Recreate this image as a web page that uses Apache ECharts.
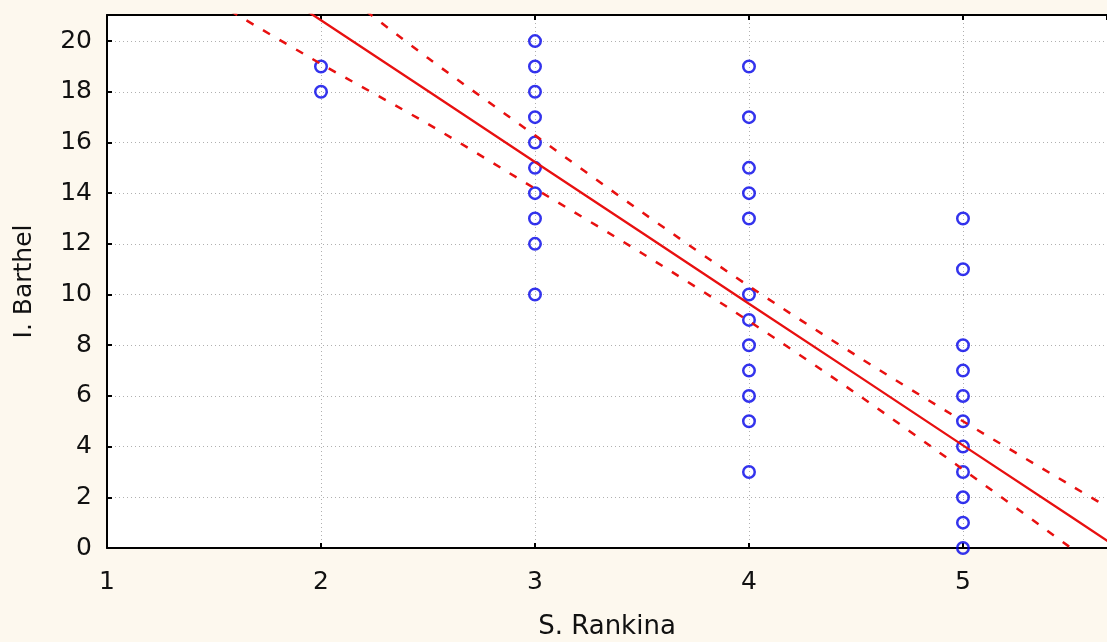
<!DOCTYPE html>
<html>
<head>
<meta charset="utf-8">
<script src="https://cdn.jsdelivr.net/npm/echarts@6/dist/echarts.min.js"></script>
<style>
  html, body { margin: 0; padding: 0; background: #fdf8ee; }
  #chart { width: 1107px; height: 642px; }
</style>
</head>
<body>
<div id="chart"></div>
<script>
// Observed points: I. Barthel scores for each S. Rankina level
const rankinLevels = [2, 3, 4, 5];
const barthelAt2 = [19, 18];
const barthelAt3 = [20, 19, 18, 17, 16, 15, 14, 13, 12, 10];
const barthelAt4 = [19, 17, 15, 14, 13, 10, 9, 8, 7, 6, 5, 3];
const barthelAt5 = [13, 11, 8, 7, 6, 5, 4, 3, 2, 1, 0];

// Regression line and confidence band
const bandX  = [1.5, 2, 2.5, 3, 3.5, 4, 4.5, 5, 5.5, 5.8];
const fitY   = [23.62, 20.82, 18.03, 15.23, 12.44, 9.64, 6.85, 4.05, 1.26, -0.42];
const upperY = [25.67, 22.54, 19.33, 16.28, 13.25, 10.33, 7.60, 5.00, 2.49, 0.99];
const lowerY = [21.57, 19.10, 16.73, 14.18, 11.63, 8.95, 6.10, 3.10, 0.03, -1.83];

// Axis ranges
const xMin = 1, xMax = 5.673, xStep = 1;
const yMin = 0, yMax = 21.03, yStep = 2;

const groups = [barthelAt2, barthelAt3, barthelAt4, barthelAt5];
const points = [];
groups.forEach((g, i) => g.forEach(v => points.push([rankinLevels[i], v])));
const toPairs = (xs, ys) => xs.map((x, i) => [x, ys[i]]);

const FONT = 'DejaVu Sans';
const TXT = '#111111';
const RED = '#e81010';

const chart = echarts.init(document.getElementById('chart'), null, { renderer: 'canvas' });
chart.setOption({
  backgroundColor: '#fdf8ee',
  animation: false,
  grid: {
    left: 107, right: 0, top: 15, bottom: 94, containLabel: false, outerBoundsMode: 'none',
    show: true, backgroundColor: '#ffffff', borderWidth: 0
  },
  xAxis: [{
    type: 'value', min: xMin, max: xMax, interval: xStep, position: 'bottom',
    name: 'S. Rankina', nameLocation: 'middle', nameGap: 66,
    nameTextStyle: { fontFamily: FONT, fontSize: 26, color: TXT },
    axisLine: { show: true, onZero: false, lineStyle: { color: '#000', width: 2 } },
    axisTick: { show: true, inside: true, length: 5, lineStyle: { color: '#000', width: 2 } },
    axisLabel: { margin: 22, fontFamily: FONT, fontSize: 25, color: TXT, showMaxLabel: false },
    splitLine: { show: true, lineStyle: { color: '#b0b0b0', width: 1, type: [1, 3] } }
  }, {
    type: 'value', min: xMin, max: xMax, interval: xStep, position: 'top',
    axisLine: { show: true, onZero: false, lineStyle: { color: '#000', width: 2 } },
    axisTick: { show: true, inside: true, length: 5, lineStyle: { color: '#000', width: 2 } },
    axisLabel: { show: false },
    splitLine: { show: false }
  }],
  yAxis: {
    type: 'value', min: yMin, max: yMax, interval: yStep,
    name: 'I. Barthel', nameLocation: 'middle', nameGap: 70, nameRotate: 90,
    nameTextStyle: { fontFamily: FONT, fontSize: 25, color: TXT },
    axisLine: { show: true, onZero: false, lineStyle: { color: '#000', width: 2 } },
    axisTick: { show: true, inside: true, length: 5, lineStyle: { color: '#000', width: 2 } },
    axisLabel: { margin: 15, fontFamily: FONT, fontSize: 25, color: TXT, showMaxLabel: false },
    splitLine: { show: true, lineStyle: { color: '#b0b0b0', width: 1, type: [1, 3] } }
  },
  series: [{
    type: 'scatter', data: points, symbol: 'circle', symbolSize: 11.5, z: 2,
    itemStyle: { color: 'rgba(0,0,0,0)', borderColor: '#0000e8', borderWidth: 2.5 }
  }, {
    type: 'line', data: toPairs(bandX, fitY), showSymbol: false, z: 3, clip: true,
    lineStyle: { color: RED, width: 2.3 }
  }, {
    type: 'line', data: toPairs(bandX, upperY), showSymbol: false, smooth: 0.3, z: 3, clip: true,
    lineStyle: { color: RED, width: 2.5, type: [8, 11] }
  }, {
    type: 'line', data: toPairs(bandX, lowerY), showSymbol: false, smooth: 0.3, z: 3, clip: true,
    lineStyle: { color: RED, width: 2.5, type: [8, 11] }
  }]
});
</script>
</body>
</html>
